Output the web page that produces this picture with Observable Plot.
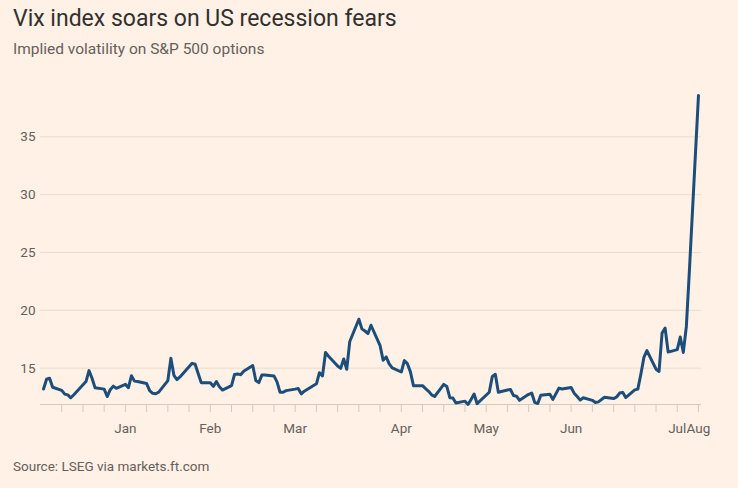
<!DOCTYPE html>
<html>
<head>
<meta charset="utf-8">
<script src="https://cdn.jsdelivr.net/npm/d3@7"></script>
<script src="https://cdn.jsdelivr.net/npm/@observablehq/plot@0.6"></script>
<style>
  html, body { margin: 0; padding: 0; background: #fff1e5; }
  body { width: 738px; height: 488px; position: relative; overflow: hidden; font-family: Roboto, "Noto Sans", sans-serif; }
  #title { position: absolute; left: 13px; top: 5px; font-size: 23px; color: #33302e; white-space: nowrap; }
  #subtitle { position: absolute; left: 13px; top: 40px; font-size: 15.5px; color: #66605c; white-space: nowrap; }
  #chart { position: absolute; left: 0; top: 70px; }
  #caption { position: absolute; left: 13px; top: 458px; font-size: 13.5px; color: #66605c; white-space: nowrap; }
</style>
</head>
<body>
<div id="title">Vix index soars on US recession fears</div>
<div id="subtitle">Implied volatility on S&amp;P 500 options</div>
<div id="chart"></div>
<div id="caption">Source: LSEG via markets.ft.com</div>
<script>
const dates = [
  "2024-01-02","2024-01-03","2024-01-04","2024-01-05","2024-01-08","2024-01-09","2024-01-10","2024-01-11","2024-01-12",
  "2024-01-16","2024-01-17","2024-01-18","2024-01-19","2024-01-22","2024-01-23","2024-01-24","2024-01-25","2024-01-26",
  "2024-01-29","2024-01-30","2024-01-31",
  "2024-02-01","2024-02-02","2024-02-05","2024-02-06","2024-02-07","2024-02-08","2024-02-09","2024-02-12","2024-02-13",
  "2024-02-14","2024-02-15","2024-02-16","2024-02-20","2024-02-21","2024-02-22","2024-02-23","2024-02-26","2024-02-27",
  "2024-02-28","2024-02-29",
  "2024-03-01","2024-03-04","2024-03-05","2024-03-06","2024-03-07","2024-03-08","2024-03-11","2024-03-12","2024-03-13",
  "2024-03-14","2024-03-15","2024-03-18","2024-03-19","2024-03-20","2024-03-21","2024-03-22","2024-03-25","2024-03-26",
  "2024-03-27","2024-03-28",
  "2024-04-01","2024-04-02","2024-04-03","2024-04-04","2024-04-05","2024-04-08","2024-04-09","2024-04-10","2024-04-11",
  "2024-04-12","2024-04-15","2024-04-16","2024-04-17","2024-04-18","2024-04-19","2024-04-22","2024-04-23","2024-04-24",
  "2024-04-25","2024-04-26","2024-04-29","2024-04-30",
  "2024-05-01","2024-05-02","2024-05-03","2024-05-06","2024-05-07","2024-05-08","2024-05-09","2024-05-10","2024-05-13",
  "2024-05-14","2024-05-15","2024-05-16","2024-05-17","2024-05-20","2024-05-21","2024-05-22","2024-05-23","2024-05-24",
  "2024-05-28","2024-05-29","2024-05-30","2024-05-31",
  "2024-06-03","2024-06-04","2024-06-05","2024-06-06","2024-06-07","2024-06-10","2024-06-11","2024-06-12","2024-06-13",
  "2024-06-14","2024-06-17","2024-06-18","2024-06-20","2024-06-21","2024-06-24","2024-06-25","2024-06-26","2024-06-27",
  "2024-06-28",
  "2024-07-01","2024-07-02","2024-07-03","2024-07-05","2024-07-08","2024-07-09","2024-07-10","2024-07-11","2024-07-12",
  "2024-07-15","2024-07-16","2024-07-17","2024-07-18","2024-07-19","2024-07-22","2024-07-23","2024-07-24","2024-07-25",
  "2024-07-26","2024-07-29","2024-07-30","2024-07-31",
  "2024-08-01","2024-08-02","2024-08-05"
];
const vix = [
  13.20,14.04,14.13,13.35,13.08,12.76,12.69,12.44,12.70,
  13.84,14.79,14.13,13.30,13.19,12.55,13.14,13.45,13.26,
  13.60,13.31,14.35,
  13.88,13.85,13.67,13.06,12.83,12.79,12.93,13.93,15.85,
  14.38,14.01,14.24,15.42,15.34,14.54,13.75,13.74,13.43,
  13.84,13.40,
  13.11,13.49,14.46,14.50,14.44,14.74,15.23,13.93,13.75,
  14.40,14.41,14.33,13.82,12.92,12.92,13.06,13.19,13.24,
  12.78,13.01,
  13.65,14.61,14.33,16.35,16.03,15.19,14.98,15.80,14.91,
  17.31,19.23,18.40,18.21,18.00,18.71,16.94,15.69,15.97,
  15.37,15.03,14.67,15.65,
  15.39,14.68,13.49,13.49,13.23,13.00,12.69,12.55,13.60,
  13.42,12.45,12.42,11.99,12.15,11.86,12.29,12.77,11.93,
  12.92,14.28,14.47,12.92,
  13.11,13.16,12.63,12.58,12.22,12.74,12.85,12.04,11.94,
  12.66,12.75,12.30,13.28,13.20,13.33,12.84,12.55,12.24,
  12.44,
  12.22,12.03,12.09,12.48,12.37,12.51,12.85,12.91,12.46,
  13.12,13.19,14.48,15.93,16.52,14.91,14.72,18.04,18.46,
  16.39,16.60,17.69,16.36,
  18.59,23.39,38.57
];
const yTicks = [15, 20, 25, 30, 35];
const monthLabelDates = ["2024-01-29","2024-02-26","2024-03-25","2024-04-29","2024-05-27","2024-06-24","2024-07-29","2024-08-05"];
const monthLabels = ["Jan","Feb","Mar","Apr","May","Jun","Jul","Aug"];

const parse = d3.utcParse("%Y-%m-%d");
const data = dates.map((d, i) => ({date: parse(d), value: vix[i]}));
const weeklyTicks = d3.utcMonday.range(parse("2024-01-08"), parse("2024-08-06"));
const labelMap = new Map(monthLabelDates.map((d, i) => [+parse(d), monthLabels[i]]));

const chart = Plot.plot({
  width: 738,
  height: 375,
  marginLeft: 40,
  marginRight: 37,
  marginTop: 25,
  marginBottom: 41,
  style: {background: "transparent", fontFamily: "Roboto, 'Noto Sans', sans-serif", fontSize: "13.5px", color: "#66605c"},
  x: {type: "utc", domain: [parse("2024-01-01"), parse("2024-08-06")]},
  y: {domain: [d3.min(vix), d3.max(vix)]},
  marks: [
    Plot.ruleY(yTicks, {stroke: "#e9ddd2", strokeWidth: 1}),
    Plot.ruleY([d3.min(vix)], {stroke: "#d5c8bd", strokeWidth: 1}),
    Plot.axisY({ticks: yTicks, tickSize: 0, tickPadding: 5, fill: "#66605c", fontSize: 13.5, label: null}),
    Plot.axisX({ticks: weeklyTicks, tickSize: 8, tickPadding: 11, stroke: "#d5c8bd", fill: "#66605c", fontSize: 13.5,
      tickFormat: d => labelMap.get(+d) ?? "", label: null}),
    Plot.lineY(data, {x: "date", y: "value", stroke: "#1d4e7b", strokeWidth: 3, strokeLinejoin: "round", strokeLinecap: "round"})
  ]
});
document.getElementById("chart").appendChild(chart);
</script>
</body>
</html>
